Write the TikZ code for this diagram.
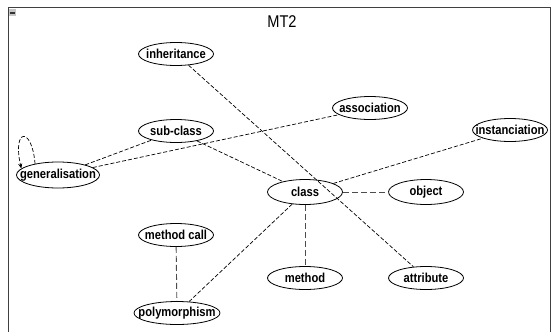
\documentclass[tikz,border=0pt]{standalone}
\usepackage{fontspec}
\setmainfont[FakeStretch=0.86]{Liberation Sans}
\usetikzlibrary{shapes.geometric,arrows.meta}
\newcommand{\lbl}[1]{\makebox[0pt]{#1}}
\tikzset{
  concept/.style={ellipse, draw, line width=0.8pt, inner sep=0pt,
    minimum width=75pt, minimum height=23pt,
    font=\bfseries\fontsize{13}{13}\selectfont},
  link/.style={dash pattern=on 4pt off 2pt, line width=0.7pt},
  longlink/.style={dash pattern=on 6pt off 3pt, line width=0.9pt, color=black!70},
}
\begin{document}
\begin{tikzpicture}[x=1pt,y=-1pt]
        \useasboundingbox (0,0) rectangle (556,332);
        \draw[line width=1pt, color=black!75] (8,332) -- (8,7) -- (550,7) -- (550,332);
        \fill[gray!45] (9,9) rectangle (16,16);
        \fill[black!80] (10,12) rectangle (15,13.5);
        \node (title) at (282,22) {\fontsize{17}{17}\selectfont MT2};
        \node[concept] (inheritance) at (176,54) {\lbl{inheritance}};
        \node[concept] (association) at (370,108) {\lbl{association}};
        \node[concept] (subclass) at (176,131) {\lbl{sub-class}};
        \node[concept] (instanciation) at (510,130) {\lbl{instanciation}};
        \node[concept, minimum width=83pt, minimum height=26pt] (generalisation) at (58,175) {\lbl{generalisation}};
        \node[concept, minimum height=25pt] (class) at (305,192) {\lbl{class}};
        \node[concept, minimum height=25pt] (object) at (426,192) {\lbl{object}};
        \node[concept] (methodcall) at (176,235) {\lbl{method call}};
        \node[concept] (method) at (305,278) {\lbl{method}};
        \node[concept] (attribute) at (426,278) {\lbl{attribute}};
        \node[concept, minimum width=86pt] (polymorphism) at (177,313) {\lbl{polymorphism}};
        \draw[link] (inheritance) -- (attribute);
        \draw[link] (generalisation) -- (subclass);
        \draw[link] (generalisation) -- (association);
        \draw[link] (subclass) -- (class);
        \draw[link] (class) -- (instanciation);
        \draw[link] (class) -- (polymorphism);
        \draw[longlink] (class) -- (object);
        \draw[longlink] (class) -- (method);
        \draw[longlink] (methodcall) -- (polymorphism);
        \draw[link, -{Stealth[length=5pt,width=4pt]}] (generalisation.154)
        .. controls (32,126) and (12,128) .. (generalisation.170);
    \end{tikzpicture}
\end{document}
